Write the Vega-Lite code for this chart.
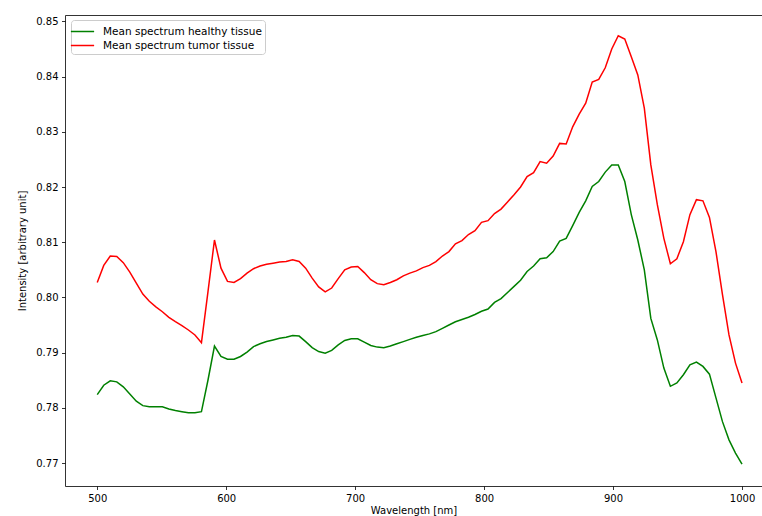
{
  "$schema": "https://vega.github.io/schema/vega-lite/v6.json",
  "autosize": {"type": "none"},
  "padding": {"left": 65, "top": 15, "right": 0, "bottom": 30},
  "width": 697,
  "height": 471,
  "background": "white",
  "config": {
    "view": {"stroke": null},
    "font": "DejaVu Sans",
    "axis": {
      "labelFont": "DejaVu Sans", "labelFontSize": 10, "labelColor": "black",
      "titleFont": "DejaVu Sans", "titleFontSize": 10, "titleFontWeight": "normal", "titleColor": "black",
      "domainColor": "black", "domainWidth": 0.8, "tickColor": "black", "tickWidth": 0.8, "tickSize": 3.5,
      "labelPadding": 3.5, "grid": false
    }
  },
  "data": {"values": [
    {"wl": 500, "healthy": 0.7824, "tumor": 0.8027},
    {"wl": 505.05, "healthy": 0.7841, "tumor": 0.8058},
    {"wl": 510.1, "healthy": 0.7849, "tumor": 0.8075},
    {"wl": 515.15, "healthy": 0.7847, "tumor": 0.8074},
    {"wl": 520.2, "healthy": 0.7838, "tumor": 0.8063},
    {"wl": 525.25, "healthy": 0.7825, "tumor": 0.8046},
    {"wl": 530.3, "healthy": 0.7812, "tumor": 0.8026},
    {"wl": 535.35, "healthy": 0.7804, "tumor": 0.8006},
    {"wl": 540.4, "healthy": 0.7802, "tumor": 0.7993},
    {"wl": 545.45, "healthy": 0.7802, "tumor": 0.7983},
    {"wl": 550.51, "healthy": 0.7802, "tumor": 0.7974},
    {"wl": 555.56, "healthy": 0.7798, "tumor": 0.7964},
    {"wl": 560.61, "healthy": 0.7795, "tumor": 0.7956},
    {"wl": 565.66, "healthy": 0.7793, "tumor": 0.7949},
    {"wl": 570.71, "healthy": 0.7791, "tumor": 0.7941},
    {"wl": 575.76, "healthy": 0.7791, "tumor": 0.7932},
    {"wl": 580.81, "healthy": 0.7793, "tumor": 0.7918},
    {"wl": 585.86, "healthy": 0.7850, "tumor": 0.8010},
    {"wl": 590.91, "healthy": 0.7912, "tumor": 0.8104},
    {"wl": 595.96, "healthy": 0.7893, "tumor": 0.8053},
    {"wl": 601.01, "healthy": 0.7888, "tumor": 0.8029},
    {"wl": 606.06, "healthy": 0.7888, "tumor": 0.8027},
    {"wl": 611.11, "healthy": 0.7893, "tumor": 0.8034},
    {"wl": 616.16, "healthy": 0.7901, "tumor": 0.8044},
    {"wl": 621.21, "healthy": 0.7911, "tumor": 0.8052},
    {"wl": 626.26, "healthy": 0.7916, "tumor": 0.8057},
    {"wl": 631.31, "healthy": 0.7920, "tumor": 0.8060},
    {"wl": 636.36, "healthy": 0.7923, "tumor": 0.8062},
    {"wl": 641.41, "healthy": 0.7926, "tumor": 0.8064},
    {"wl": 646.46, "healthy": 0.7928, "tumor": 0.8065},
    {"wl": 651.52, "healthy": 0.7931, "tumor": 0.8068},
    {"wl": 656.57, "healthy": 0.7930, "tumor": 0.8065},
    {"wl": 661.62, "healthy": 0.7920, "tumor": 0.8053},
    {"wl": 666.67, "healthy": 0.7909, "tumor": 0.8035},
    {"wl": 671.72, "healthy": 0.7902, "tumor": 0.8019},
    {"wl": 676.77, "healthy": 0.7899, "tumor": 0.8010},
    {"wl": 681.82, "healthy": 0.7904, "tumor": 0.8017},
    {"wl": 686.87, "healthy": 0.7914, "tumor": 0.8034},
    {"wl": 691.92, "healthy": 0.7922, "tumor": 0.8050},
    {"wl": 696.97, "healthy": 0.7925, "tumor": 0.8055},
    {"wl": 702.02, "healthy": 0.7925, "tumor": 0.8056},
    {"wl": 707.07, "healthy": 0.7919, "tumor": 0.8045},
    {"wl": 712.12, "healthy": 0.7913, "tumor": 0.8032},
    {"wl": 717.17, "healthy": 0.7910, "tumor": 0.8025},
    {"wl": 722.22, "healthy": 0.7909, "tumor": 0.8023},
    {"wl": 727.27, "healthy": 0.7912, "tumor": 0.8027},
    {"wl": 732.32, "healthy": 0.7916, "tumor": 0.8032},
    {"wl": 737.37, "healthy": 0.7920, "tumor": 0.8039},
    {"wl": 742.42, "healthy": 0.7924, "tumor": 0.8044},
    {"wl": 747.47, "healthy": 0.7928, "tumor": 0.8048},
    {"wl": 752.53, "healthy": 0.7931, "tumor": 0.8054},
    {"wl": 757.58, "healthy": 0.7934, "tumor": 0.8058},
    {"wl": 762.63, "healthy": 0.7938, "tumor": 0.8065},
    {"wl": 767.68, "healthy": 0.7944, "tumor": 0.8075},
    {"wl": 772.73, "healthy": 0.7950, "tumor": 0.8083},
    {"wl": 777.78, "healthy": 0.7956, "tumor": 0.8097},
    {"wl": 782.83, "healthy": 0.7960, "tumor": 0.8103},
    {"wl": 787.88, "healthy": 0.7964, "tumor": 0.8114},
    {"wl": 792.93, "healthy": 0.7969, "tumor": 0.8121},
    {"wl": 797.98, "healthy": 0.7975, "tumor": 0.8136},
    {"wl": 803.03, "healthy": 0.7979, "tumor": 0.8139},
    {"wl": 808.08, "healthy": 0.7991, "tumor": 0.8152},
    {"wl": 813.13, "healthy": 0.7998, "tumor": 0.8160},
    {"wl": 818.18, "healthy": 0.8009, "tumor": 0.8173},
    {"wl": 823.23, "healthy": 0.8020, "tumor": 0.8186},
    {"wl": 828.28, "healthy": 0.8031, "tumor": 0.8200},
    {"wl": 833.33, "healthy": 0.8047, "tumor": 0.8219},
    {"wl": 838.38, "healthy": 0.8057, "tumor": 0.8226},
    {"wl": 843.43, "healthy": 0.8070, "tumor": 0.8246},
    {"wl": 848.48, "healthy": 0.8072, "tumor": 0.8243},
    {"wl": 853.54, "healthy": 0.8083, "tumor": 0.8256},
    {"wl": 858.59, "healthy": 0.8102, "tumor": 0.8279},
    {"wl": 863.64, "healthy": 0.8107, "tumor": 0.8278},
    {"wl": 868.69, "healthy": 0.8130, "tumor": 0.8309},
    {"wl": 873.74, "healthy": 0.8154, "tumor": 0.8332},
    {"wl": 878.79, "healthy": 0.8175, "tumor": 0.8352},
    {"wl": 883.84, "healthy": 0.8201, "tumor": 0.8390},
    {"wl": 888.89, "healthy": 0.8210, "tumor": 0.8395},
    {"wl": 893.94, "healthy": 0.8227, "tumor": 0.8416},
    {"wl": 898.99, "healthy": 0.8240, "tumor": 0.8450},
    {"wl": 904.04, "healthy": 0.8240, "tumor": 0.8474},
    {"wl": 909.09, "healthy": 0.8210, "tumor": 0.8468},
    {"wl": 914.14, "healthy": 0.8150, "tumor": 0.8436},
    {"wl": 919.19, "healthy": 0.8104, "tumor": 0.8403},
    {"wl": 924.24, "healthy": 0.8050, "tumor": 0.8343},
    {"wl": 929.29, "healthy": 0.7962, "tumor": 0.8240},
    {"wl": 934.34, "healthy": 0.7923, "tumor": 0.8168},
    {"wl": 939.39, "healthy": 0.7872, "tumor": 0.8107},
    {"wl": 944.44, "healthy": 0.7839, "tumor": 0.8061},
    {"wl": 949.49, "healthy": 0.7845, "tumor": 0.8070},
    {"wl": 954.55, "healthy": 0.7860, "tumor": 0.8101},
    {"wl": 959.6, "healthy": 0.7878, "tumor": 0.8150},
    {"wl": 964.65, "healthy": 0.7883, "tumor": 0.8177},
    {"wl": 969.7, "healthy": 0.7875, "tumor": 0.8175},
    {"wl": 974.75, "healthy": 0.7861, "tumor": 0.8145},
    {"wl": 979.8, "healthy": 0.7818, "tumor": 0.8083},
    {"wl": 984.85, "healthy": 0.7775, "tumor": 0.8005},
    {"wl": 989.9, "healthy": 0.7742, "tumor": 0.7932},
    {"wl": 994.95, "healthy": 0.7718, "tumor": 0.7881},
    {"wl": 1000, "healthy": 0.7698, "tumor": 0.7845}
  ]},
  "resolve": {"axis": {"x": "independent"}},
  "layer": [
    {
      "transform": [{"fold": ["healthy", "tumor"], "as": ["series", "value"]}],
      "mark": {"type": "line", "strokeWidth": 1.5, "clip": true},
      "encoding": {
        "x": {"field": "wl", "type": "quantitative",
              "scale": {"domain": [475, 1015.5], "nice": false, "zero": false},
              "axis": {"title": "Wavelength [nm]", "values": [500, 600, 700, 800, 900, 1000], "format": "d", "titlePadding": 2}},
        "y": {"field": "value", "type": "quantitative",
              "scale": {"domain": [0.76584, 0.85116], "nice": false, "zero": false},
              "axis": {"title": "Intensity [arbitrary unit]", "values": [0.77, 0.78, 0.79, 0.80, 0.81, 0.82, 0.83, 0.84, 0.85], "format": ".2f", "titlePadding": 8}},
        "color": {"field": "series", "type": "nominal",
                  "scale": {"domain": ["healthy", "tumor"], "range": ["#008000", "#ff0000"]},
                  "legend": {
                    "title": null, "orient": "none", "legendX": 6, "legendY": 5,
                    "labelExpr": "datum.label == 'healthy' ? 'Mean spectrum healthy tissue' : 'Mean spectrum tumor tissue'",
                    "labelFont": "DejaVu Sans", "labelFontSize": 10.5, "labelColor": "black",
                    "symbolType": "M-1.55,0H1.55", "symbolStrokeWidth": 1.5, "symbolSize": 225,
                    "fillColor": "white", "strokeColor": "#cccccc", "cornerRadius": 3, "padding": 3,
                    "rowPadding": 0, "labelOffset": 12
                  }}
      }
    },
    {
      "mark": {"type": "line", "opacity": 0},
      "encoding": {
        "x": {"field": "wl", "type": "quantitative",
              "axis": {"orient": "top", "labels": false, "ticks": false, "title": null}},
        "y": {"field": "healthy", "type": "quantitative"}
      }
    }
  ]
}
